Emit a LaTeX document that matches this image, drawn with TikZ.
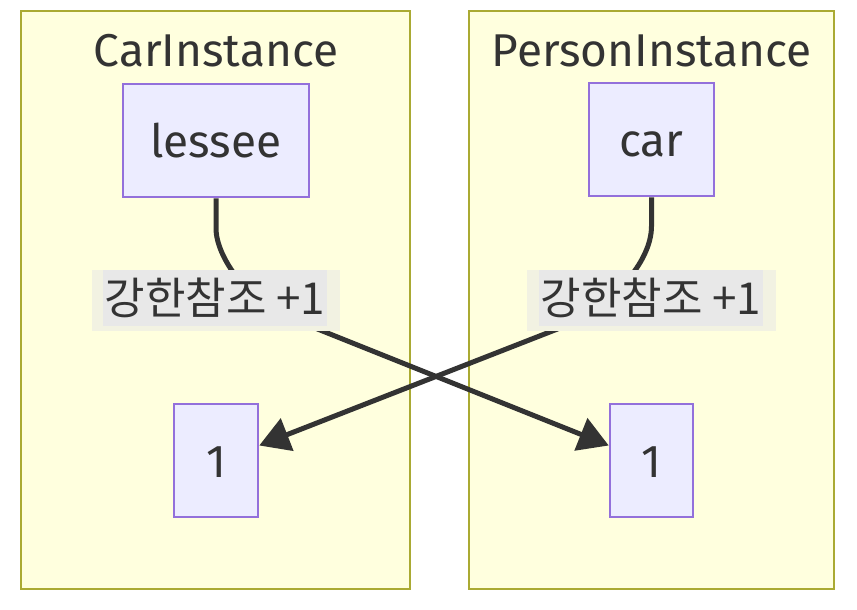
\documentclass[tikz,border=0pt]{standalone}
\usepackage{fontspec}
\setmainfont{Fira Sans}
\newfontfamily\krfont{Noto Sans CJK KR}
\usetikzlibrary{arrows.meta}

\definecolor{clusterfill}{HTML}{FFFFDE}
\definecolor{clusterline}{HTML}{AAAA33}
\definecolor{boxfill}{HTML}{ECECFF}
\definecolor{boxline}{HTML}{9370DB}
\definecolor{inkgrey}{HTML}{333333}
\definecolor{labelfill}{HTML}{E8E8E8}
\definecolor{halofill}{HTML}{F2F2E2}

\tikzset{
  cluster/.style={draw=clusterline,fill=clusterfill,line width=2.5pt},
  title/.style={text=inkgrey,font=\fontsize{46}{54}\selectfont,inner sep=0pt},
  field/.style={draw=boxline,fill=boxfill,line width=2.5pt,text=inkgrey,
    font=\fontsize{46}{54}\selectfont,inner xsep=0pt,minimum height=113pt,
    text height=33pt,text depth=0pt},
  link/.style={draw=inkgrey,line width=5pt,
    -{Triangle[length=30pt,width=34pt]}},
  halo/.style={fill=halofill,inner sep=0pt},
  edgelabel/.style={fill=labelfill,text=inkgrey,inner sep=0pt,
    font=\krfont\fontsize{44}{52}\selectfont}
}

\begin{document}
\begin{tikzpicture}[x=1pt,y=-1pt]
    \useasboundingbox (0,0) rectangle (857,610);
    % clusters
    \node[cluster,minimum width=389,minimum height=578] (carcluster) at (215.5,300) {};
    \node[cluster,minimum width=365,minimum height=578] (personcluster) at (651.5,300) {};
    \node[title] (cartitle) at (216,51) {CarInstance};
    \node[title] (persontitle) at (651.5,51) {PersonInstance};
    % fields and counts
    \node[field,minimum width=186] (lessee) at (216,140.5) {lessee};
    \node[field,minimum width=125] (car) at (651.5,139.5) {car};
    \node[field,minimum width=84] (leftone) at (216,460.5) {1};
    \node[field,minimum width=83] (rightone) at (651.5,460.5) {1};
    % strong references
    \draw[link] (lessee.south) -- ++(0,30)
      .. controls (216,258) and (250,302) .. (285,316)
      -- ([yshift=15pt]rightone.west);
    \draw[link] (car.south) -- ++(0,29)
      .. controls (651.5,262) and (612,307) .. (560,328)
      -- ([yshift=15pt]leftone.east);
    % labels
    \node[halo,minimum width=248,minimum height=61] (lefthalo) at (216,300.5) {};
    \node[edgelabel,minimum width=224,minimum height=56] (leftlabel) at (215,298) {강한참조 +1};
    \node[halo,minimum width=249,minimum height=61] (righthalo) at (651.5,300.5) {};
    \node[edgelabel,minimum width=224,minimum height=56] (rightlabel) at (651,298) {강한참조 +1};
\end{tikzpicture}
\end{document}
